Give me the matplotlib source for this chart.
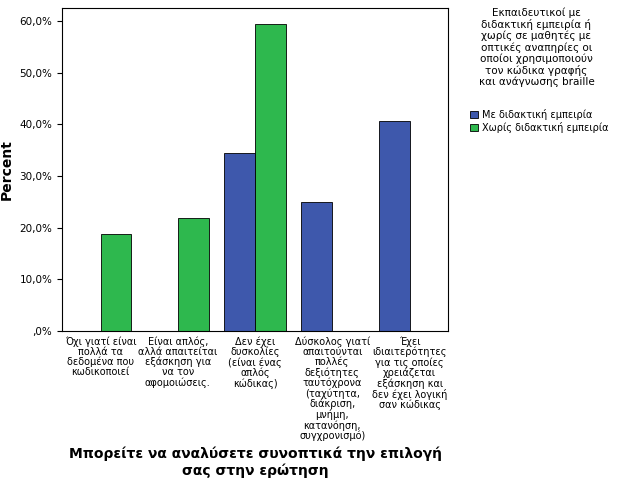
import matplotlib
matplotlib.use("Agg")
import matplotlib.pyplot as plt
import numpy as np

categories = ["Όχι γιατί είναι\nπολλά τα\nδεδομένα που\nκωδικοποιεί",
              "Είναι απλός,\nαλλά απαιτείται\nεξάσκηση για\nνα τον\nαφομοιώσεις.",
              "Δεν έχει\nδυσκολίες\n(είναι ένας\nαπλός\nκώδικας)",
              "Δύσκολος γιατί\nαπαιτούνται\nπολλές\nδεξιότητες\nταυτόχρονα\n(ταχύτητα,\nδιάκριση,\nμνήμη,\nκατανόηση,\nσυγχρονισμό)",
              "Έχει\nιδιαιτερότητες\nγια τις οποίες\nχρειάζεται\nεξάσκηση και\nδεν έχει λογική\nσαν κώδικας"]
with_exp = [0, 0, 34.4, 25.0, 40.6]
without_exp = [18.8, 21.9, 59.4, 0, 0]
yticks = [0, 10, 20, 30, 40, 50, 60]
ytick_labels = [",0%", "10,0%", "20,0%", "30,0%", "40,0%", "50,0%", "60,0%"]

fig = plt.figure(figsize=(6.26, 5.01), dpi=100)
ax = fig.add_axes([0.099, 0.339, 0.617, 0.645])
x = np.arange(len(categories))
w = 0.4
ax.bar(x - w/2, with_exp, w, color="#3E58AC", edgecolor="black", linewidth=0.6, label="Με διδακτική εμπειρία")
ax.bar(x + w/2, without_exp, w, color="#2EB84E", edgecolor="black", linewidth=0.6, label="Χωρίς διδακτική εμπειρία")
ax.set_xlim(-0.5, 4.5)
ax.set_ylim(0, 62.5)
ax.set_yticks(yticks)
ax.set_yticklabels(ytick_labels, fontsize=7.5)
ax.set_xticks(x)
ax.set_xticklabels(categories, fontsize=7, linespacing=1.0, va="top")
ax.tick_params(axis="x", length=0)
ax.set_ylabel("Percent", fontsize=10, fontweight="bold")
ax.set_xlabel("Μπορείτε να αναλύσετε συνοπτικά την επιλογή\nσας στην ερώτηση", fontsize=10, fontweight="bold")
fig.text(0.857, 0.985, "Εκπαιδευτικοί με\nδιδακτική εμπειρία ή\nχωρίς σε μαθητές με\nοπτικές αναπηρίες οι\nοποίοι χρησιμοποιούν\nτον κώδικα γραφής\nκαι ανάγνωσης braille",
         ha="center", va="top", fontsize=7.5, linespacing=1.1)
fig.legend(loc="upper left", bbox_to_anchor=(0.745, 0.79), fontsize=7, frameon=False,
           handlelength=0.8, handleheight=0.8, borderaxespad=0, handletextpad=0.4, labelspacing=0.2)
fig.savefig("out.png", dpi=100)
